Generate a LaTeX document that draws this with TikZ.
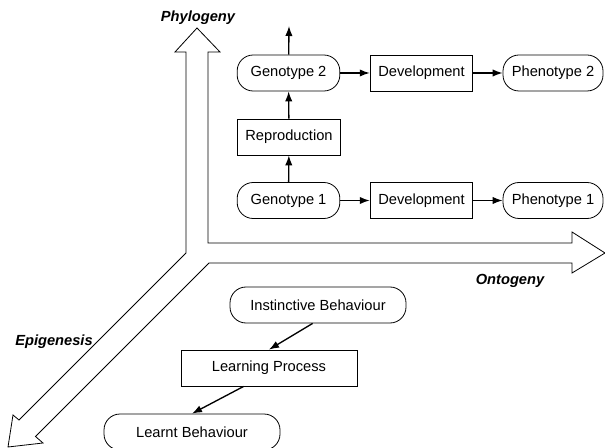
\documentclass[tikz,border=0pt]{standalone}
\usepackage{fontspec}
\setmainfont{Liberation Sans}
\usetikzlibrary{arrows.meta,positioning,calc}

\begin{document}
\begin{tikzpicture}[
  x=0.75pt, y=-0.75pt,
  every node/.style={font=\fontsize{11}{13}\selectfont},
  box/.style={draw, line width=0.6pt, minimum width=77pt, minimum height=27pt, inner sep=0pt, align=center},
  rbox/.style={box, rounded corners=12pt},
  wide/.style={minimum width=132pt},
  arr/.style={-{Latex[length=7.5pt, width=5.5pt]}, line width=1pt},
  axis/.style={font=\fontsize{11}{13}\selectfont\bfseries\itshape, anchor=base}
]
  \useasboundingbox (0,0) rectangle (605,448);

  % the three big arrows
  \draw[line width=0.6pt, line join=miter]
    (186,52) -- (175,52) -- (197,28) -- (220,52) -- (208,52) -- (208,243)
    -- (572,243) -- (572,232) -- (605,253) -- (572,273) -- (572,263)
    -- (209,263) -- (35.5,436.5) -- (43,443) -- (8,447) -- (13,415)
    -- (19,420) -- (186,253) -- cycle;

  \node[axis] (phylo) at (198,22) {Phylogeny};
  \node[axis] (onto) at (510,285) {Ontogeny};
  \node[axis] (epi) at (54,345) {Epigenesis};

  % generations
  \node[rbox] (geno2) at (288.5,73) {Genotype 2};
  \node[box] (dev2) at (421.5,73) {Development};
  \node[rbox, minimum width=75pt] (pheno2) at (553,73) {Phenotype 2};
  \node[box] (repro) at (289,137) {Reproduction};
  \node[rbox] (geno1) at (288.5,200.5) {Genotype 1};
  \node[box] (dev1) at (421.5,200.5) {Development};
  \node[rbox, minimum width=75pt] (pheno1) at (553,200.5) {Phenotype 1};
  \coordinate (next) at (289,26);

  \draw[arr] (geno1) -- (repro);
  \draw[arr] (repro) -- (geno2);
  \draw[arr] (geno2) -- (next);
  \draw[arr] (geno1) -- (dev1);
  \draw[arr] (dev1) -- (pheno1);
  \draw[arr] (geno2) -- (dev2);
  \draw[arr] (dev2) -- (pheno2);

  % behaviour
  \node[rbox, wide] (inst) at (318,305) {Instinctive Behaviour};
  \node[box, wide] (learn) at (269,368) {Learning Process};
  \node[rbox, wide] (learnt) at (192,432) {Learnt Behaviour};

  \draw[arr] ([xshift=-4pt]inst.south) -- (learn.north);
  \draw[arr] ([xshift=-19pt]learn.south) -- (learnt.north);
\end{tikzpicture}
\end{document}
